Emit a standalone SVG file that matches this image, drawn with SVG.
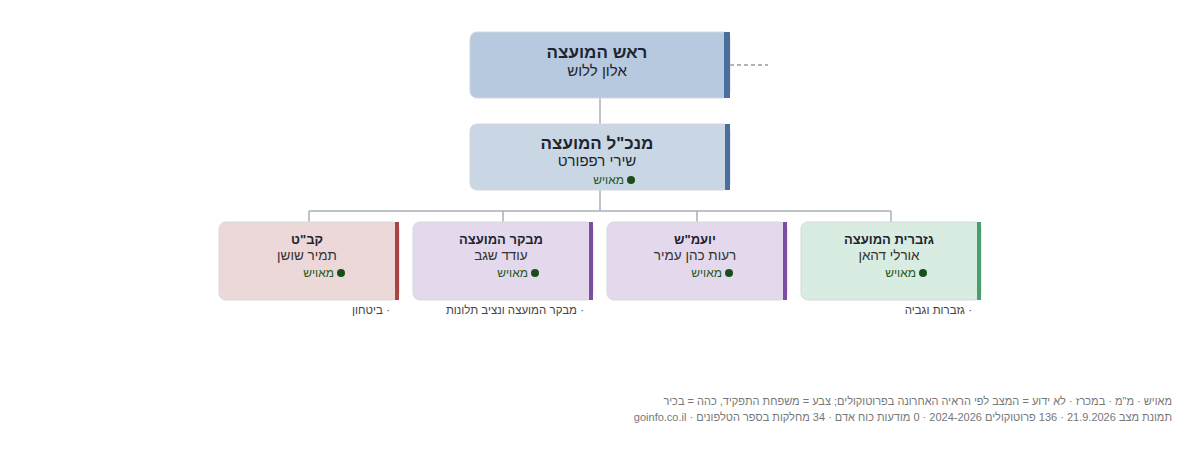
<svg xmlns="http://www.w3.org/2000/svg" width="1200" height="452" viewBox="0 0 1200 452">
<style>
text{font-family:"Liberation Sans",Arial,sans-serif;direction:rtl}
.c{text-anchor:middle}
.t1{font-size:17px;font-weight:bold;fill:#1d2530}
.n1{font-size:15px;fill:#1d2530}
.t2{font-size:13px;font-weight:bold;fill:#1d2530}
.n2{font-size:13.5px;fill:#333}
.st{font-size:12px;fill:#1e5a1e}
.note{font-size:11.5px;fill:#444;text-anchor:start}
.foot{font-size:11px;fill:#777;text-anchor:start}
.ln{stroke:#a9b0b8;stroke-width:1.5;fill:none}
.card{stroke:#d4d8dc;stroke-width:1}
</style>
<g id="connectors">
<path class="ln" d="M600 98V124M600 190V211M309 211H891M309 211V222M503 211V222M697 211V222M891 211V222"/>
<path d="M730 65H768" stroke="#999" stroke-width="1.5" stroke-dasharray="4,3"/>
</g>
<g id="head">
<rect x="470" y="32" width="260" height="66" rx="7" fill="#b7c9df" class="card"/>
<rect x="724" y="32" width="6" height="66" fill="#4a6f9c"/>
<text x="597" y="58" class="c t1">ראש המועצה</text>
<text x="597" y="76" class="c n1">אלון ללוש</text>
</g>
<g id="ceo">
<rect x="470" y="124" width="260" height="66" rx="7" fill="#c9d6e3" class="card"/>
<rect x="725" y="124" width="5" height="66" fill="#4a6f9c"/>
<text x="597" y="149" class="c t1">מנכ"ל המועצה</text>
<text x="597" y="166" class="c n1">שירי רפפורט</text>
<circle cx="631" cy="180" r="4" fill="#1a4d1a"/>
<text x="624" y="184" class="st" text-anchor="start">מאויש</text>
</g>
<g id="kabat">
<rect x="219" y="222" width="180" height="78" rx="7" fill="#ecd8d8" class="card"/>
<rect x="395" y="222" width="4" height="78" fill="#a94442"/>
<text x="307" y="244" class="c t2">קב"ט</text>
<text x="307" y="260" class="c n2">תמיר שושן</text>
<circle cx="341" cy="273" r="4" fill="#1a4d1a"/>
<text x="334" y="277" class="st" text-anchor="start">מאויש</text>
<text x="390" y="314" class="note">· ביטחון</text>
</g>
<g id="mevaker">
<rect x="413" y="222" width="180" height="78" rx="7" fill="#e4d9ec" class="card"/>
<rect x="589" y="222" width="4" height="78" fill="#7b4ea3"/>
<text x="501" y="244" class="c t2">מבקר המועצה</text>
<text x="501" y="260" class="c n2">עודד שגב</text>
<circle cx="535" cy="273" r="4" fill="#1a4d1a"/>
<text x="528" y="277" class="st" text-anchor="start">מאויש</text>
<text x="584" y="314" class="note">· מבקר המועצה ונציב תלונות</text>
</g>
<g id="yoamash">
<rect x="607" y="222" width="180" height="78" rx="7" fill="#e4d9ec" class="card"/>
<rect x="783" y="222" width="4" height="78" fill="#7b4ea3"/>
<text x="695" y="244" class="c t2">יועמ"ש</text>
<text x="695" y="260" class="c n2">רעות כהן עמיר</text>
<circle cx="729" cy="273" r="4" fill="#1a4d1a"/>
<text x="722" y="277" class="st" text-anchor="start">מאויש</text>
</g>
<g id="gizbarit">
<rect x="801" y="222" width="180" height="78" rx="7" fill="#d9ece1" class="card"/>
<rect x="977" y="222" width="4" height="78" fill="#4a9e6e"/>
<text x="889" y="244" class="c t2">גזברית המועצה</text>
<text x="889" y="260" class="c n2">אורלי דהאן</text>
<circle cx="923" cy="273" r="4" fill="#1a4d1a"/>
<text x="916" y="277" class="st" text-anchor="start">מאויש</text>
<text x="972" y="314" class="note">· גזברות וגביה</text>
</g>
<text x="1172" y="405" class="foot">מאויש · מ"מ · במכרז · לא ידוע = המצב לפי הראיה האחרונה בפרוטוקולים; צבע = משפחת התפקיד, כהה = בכיר</text>
<text x="1172" y="421" class="foot">תמונת מצב 21.9.2026 · 136 פרוטוקולים 2024-2026 · 0 מודעות כוח אדם · 34 מחלקות בספר הטלפונים · goinfo.co.il</text>
</svg>
